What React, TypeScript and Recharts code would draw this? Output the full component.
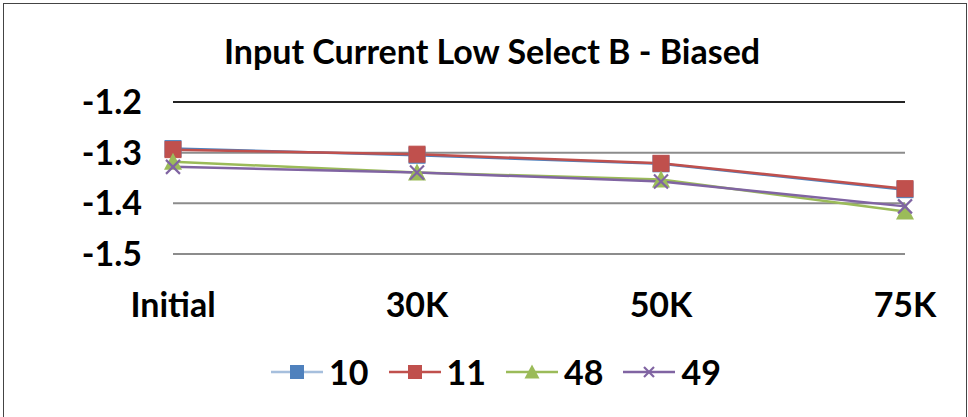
import { CartesianGrid, Legend, Line, LineChart, ReferenceLine, XAxis, YAxis } from "recharts";

const categories = ["Initial", "30K", "50K", "75K"];
const s10 = [-1.292, -1.305, -1.322, -1.373];
const s11 = [-1.294, -1.303, -1.321, -1.371];
const s48 = [-1.318, -1.339, -1.353, -1.416];
const s49 = [-1.328, -1.339, -1.357, -1.406];
const yTicks = [-1.2, -1.3, -1.4, -1.5];

const data = categories.map((name, i) => ({
  name,
  s10: s10[i],
  s11: s11[i],
  s48: s48[i],
  s49: s49[i],
}));

const series = [
  { key: "s10", label: "10", color: "#4F81BD", shape: "square" },
  { key: "s11", label: "11", color: "#C0504D", shape: "square" },
  { key: "s48", label: "48", color: "#9BBB59", shape: "triangle" },
  { key: "s49", label: "49", color: "#8064A2", shape: "x" },
];

const FONT = "Lato, 'Open Sans', sans-serif";

function Marker({ cx, cy, shape, color, size }: any) {
  if (cx == null || cy == null) return null;
  const h = size / 2;
  if (shape === "square") {
    return <rect x={cx - h} y={cy - h} width={size} height={size} fill={color} stroke={color} />;
  }
  if (shape === "triangle") {
    return (
      <polygon
        points={`${cx},${cy - h - 1} ${cx + h + 1},${cy + h} ${cx - h - 1},${cy + h}`}
        fill={color}
      />
    );
  }
  return (
    <g stroke={color} strokeWidth={2.2}>
      <line x1={cx - h} y1={cy - h} x2={cx + h} y2={cy + h} />
      <line x1={cx - h} y1={cy + h} x2={cx + h} y2={cy - h} />
    </g>
  );
}

function LegendContent() {
  return (
    <div style={{ display: "flex", justifyContent: "center", alignItems: "center", fontFamily: FONT }}>
      {series.map((s) => (
        <div key={s.key} style={{ display: "flex", alignItems: "center", margin: "0 10px" }}>
          <svg width={52} height={20}>
            <line x1={0} y1={10} x2={52} y2={10} stroke={s.color} strokeWidth={2.5} opacity={s.key === "s10" ? 0.5 : 1} />
            <Marker cx={26} cy={10} shape={s.shape} color={s.color} size={s.shape === "x" ? 10 : 13} />
          </svg>
          <span style={{ fontSize: 34, fontWeight: 700, marginLeft: 6, color: "#000", lineHeight: "40px" }}>{s.label}</span>
        </div>
      ))}
    </div>
  );
}

export default function App() {
  return (
    <div style={{ position: "absolute", left: 0, top: 0, width: 968, height: 417, background: "#fff" }}>
      <div
        style={{
          position: "absolute",
          left: 3,
          top: 3,
          width: 962,
          height: 420,
          borderLeft: "1.5px solid #444",
          borderTop: "1.5px solid #444",
          borderRight: "1.5px solid #444",
        }}
      />
      <div
        style={{
          position: "absolute",
          left: 0,
          top: 29,
          width: 984,
          textAlign: "center",
          fontFamily: FONT,
          fontWeight: 700,
          fontSize: 34,
          lineHeight: "44px",
          color: "#000",
        }}
      >
        Input Current Low Select B - Biased
      </div>
      <LineChart
        width={968}
        height={417}
        data={data}
        margin={{ top: 102, right: 63, left: 0, bottom: 123 }}
      >
        <CartesianGrid horizontal vertical={false} stroke="#8c8c8c" strokeWidth={2} />
        <XAxis
          dataKey="name"
          axisLine={false}
          tickLine={false}
          height={40}
          tickMargin={33}
          tick={{ fontSize: 34, fontWeight: 700, fill: "#000", fontFamily: FONT }}
        />
        <YAxis
          domain={[-1.5, -1.2]}
          ticks={yTicks}
          width={173}
          axisLine={false}
          tickLine={false}
          tickSize={0}
          tickMargin={31}
          tickFormatter={(v: number) => v.toFixed(1)}
          tick={{ fontSize: 34, fontWeight: 700, fill: "#000", fontFamily: FONT }}
        />
        <ReferenceLine y={-1.2} stroke="#000" strokeWidth={1.5} />
        {series.map((s) => (
          <Line
            key={s.key}
            dataKey={s.key}
            name={s.label}
            stroke={s.color}
            strokeWidth={2.5}
            isAnimationActive={false}
            dot={(p: any) => (
              <Marker key={`${s.key}-${p.index}`} cx={p.cx} cy={p.cy} shape={s.shape} color={s.color} size={s.shape === "x" ? 14 : 16} />
            )}
          />
        ))}
        <Legend
          verticalAlign="middle"
          layout="horizontal"
          content={<LegendContent />}
          wrapperStyle={{ position: "absolute", top: 352, left: 12, width: 968 }}
        />
      </LineChart>
    </div>
  );
}
